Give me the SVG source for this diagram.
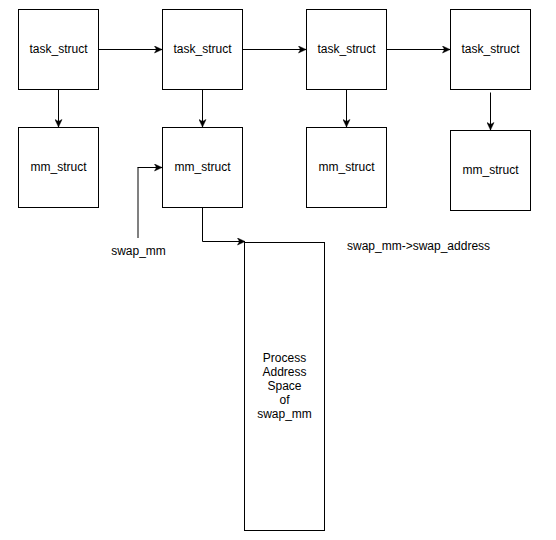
<svg xmlns="http://www.w3.org/2000/svg" width="556" height="540" viewBox="0 0 556 540">
<style>
.box{fill:#fff;stroke:#000;stroke-width:1}
.lbl{font-family:"Liberation Sans",Arial,sans-serif;font-size:12px;fill:#000;text-anchor:middle;dominant-baseline:central}
.free{font-family:"Liberation Sans",Arial,sans-serif;font-size:12px;fill:#000;dominant-baseline:central}
.edge{fill:none;stroke:#000;stroke-width:1}
</style>
<defs>
<marker id="arr" viewBox="-8 -4 8 8" refX="0" refY="0" markerWidth="8" markerHeight="8" markerUnits="userSpaceOnUse" orient="auto">
<path d="M-7.5,-3.5 L0,0 L-7.5,3.5 L-5.5,0 z" fill="#000" stroke="#000" stroke-width="0.5"/>
</marker>
</defs>
<rect width="556" height="540" fill="#fff"/>
<g id="connectors">
<path class="edge" d="M98.5,49.5 H162" marker-end="url(#arr)"/>
<path class="edge" d="M242.5,49.5 H306" marker-end="url(#arr)"/>
<path class="edge" d="M386.5,49.5 H450" marker-end="url(#arr)"/>
<path class="edge" d="M58.5,89.5 V127" marker-end="url(#arr)"/>
<path class="edge" d="M202.5,89.5 V127" marker-end="url(#arr)"/>
<path class="edge" d="M346.5,89.5 V127" marker-end="url(#arr)"/>
<path class="edge" d="M490.5,92.5 V130" marker-end="url(#arr)"/>
<path d="M138,238 V167.5" fill="none" stroke="#808080" stroke-width="2"/>
<path class="edge" d="M137.5,167.5 H162" marker-end="url(#arr)"/>
<path class="edge" d="M202.5,207.5 V241.5 H245" marker-end="url(#arr)"/>
</g>
<g id="task1"><rect class="box" x="18.5" y="9.5" width="80" height="80"/><text class="lbl" x="58.5" y="49">task_struct</text></g>
<g id="task2"><rect class="box" x="162.5" y="9.5" width="80" height="80"/><text class="lbl" x="202.5" y="49">task_struct</text></g>
<g id="task3"><rect class="box" x="306.5" y="9.5" width="80" height="80"/><text class="lbl" x="346.5" y="49">task_struct</text></g>
<g id="task4"><rect class="box" x="450.5" y="9.5" width="80" height="80"/><text class="lbl" x="490.5" y="49">task_struct</text></g>
<g id="mm1"><rect class="box" x="18.5" y="127.5" width="80" height="80"/><text class="lbl" x="58.5" y="167">mm_struct</text></g>
<g id="mm2"><rect class="box" x="162.5" y="127.5" width="80" height="80"/><text class="lbl" x="202.5" y="167">mm_struct</text></g>
<g id="mm3"><rect class="box" x="306.5" y="127.5" width="80" height="80"/><text class="lbl" x="346.5" y="167">mm_struct</text></g>
<g id="mm4"><rect class="box" x="450.5" y="130.5" width="80" height="80"/><text class="lbl" x="490.5" y="170">mm_struct</text></g>
<g id="pas"><rect class="box" x="244.5" y="242.5" width="80" height="288"/>
<text class="lbl" x="284.5" y="358">Process</text>
<text class="lbl" x="284.5" y="372">Address</text>
<text class="lbl" x="284.5" y="386">Space</text>
<text class="lbl" x="284.5" y="400">of</text>
<text class="lbl" x="284.5" y="414">swap_mm</text>
</g>
<g id="swap_mm"><text class="lbl" x="138.5" y="250.5">swap_mm</text></g>
<g id="swap_addr"><text class="free" x="347" y="245.5">swap_mm-&gt;swap_address</text></g>
</svg>
